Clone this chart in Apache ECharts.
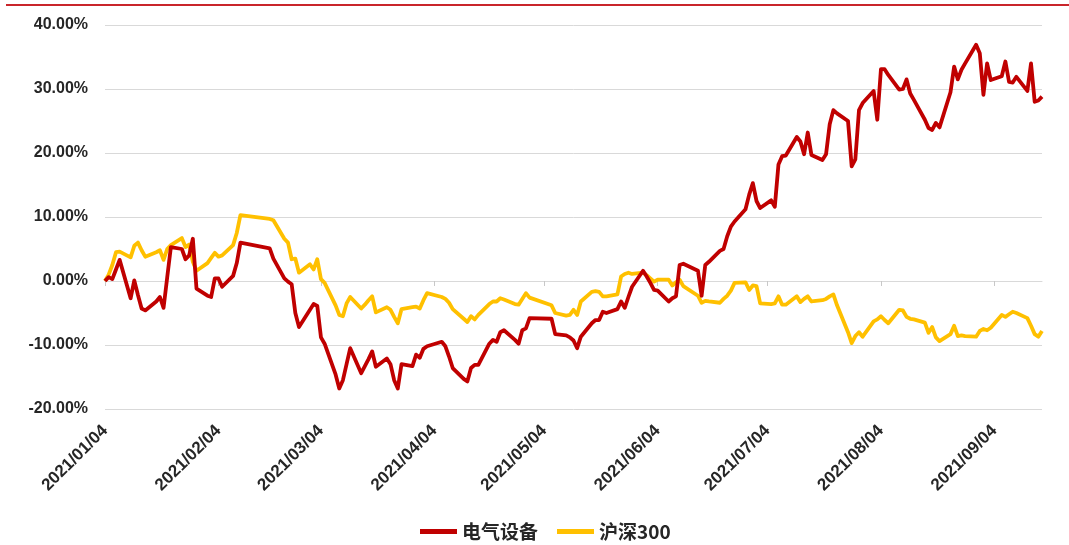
<!DOCTYPE html>
<html>
<head>
<meta charset="utf-8">
<script src="https://cdn.jsdelivr.net/npm/echarts@6/dist/echarts.min.js"></script>
<style>
  html, body { margin: 0; padding: 0; background: #ffffff; }
  #chart { width: 1069px; height: 545px; }
</style>
</head>
<body>
<div id="chart"></div>
<script>
// Trading days, 2021 (A-share calendar)
const tradeDates = [
  '2021-01-04','2021-01-05','2021-01-06','2021-01-07','2021-01-08','2021-01-11','2021-01-12','2021-01-13','2021-01-14','2021-01-15',
  '2021-01-18','2021-01-19','2021-01-20','2021-01-21','2021-01-22','2021-01-25','2021-01-26','2021-01-27','2021-01-28','2021-01-29',
  '2021-02-01','2021-02-02','2021-02-03','2021-02-04','2021-02-05','2021-02-08','2021-02-09','2021-02-10','2021-02-18','2021-02-19',
  '2021-02-22','2021-02-23','2021-02-24','2021-02-25','2021-02-26',
  '2021-03-01','2021-03-02','2021-03-03','2021-03-04','2021-03-05','2021-03-08','2021-03-09','2021-03-10','2021-03-11','2021-03-12',
  '2021-03-15','2021-03-16','2021-03-17','2021-03-18','2021-03-19','2021-03-22','2021-03-23','2021-03-24','2021-03-25','2021-03-26',
  '2021-03-29','2021-03-30','2021-03-31',
  '2021-04-01','2021-04-02','2021-04-06','2021-04-07','2021-04-08','2021-04-09','2021-04-12','2021-04-13','2021-04-14','2021-04-15',
  '2021-04-16','2021-04-19','2021-04-20','2021-04-21','2021-04-22','2021-04-23','2021-04-26','2021-04-27','2021-04-28','2021-04-29',
  '2021-04-30',
  '2021-05-06','2021-05-07','2021-05-10','2021-05-11','2021-05-12','2021-05-13','2021-05-14','2021-05-17','2021-05-18','2021-05-19',
  '2021-05-20','2021-05-21','2021-05-24','2021-05-25','2021-05-26','2021-05-27','2021-05-28','2021-05-31',
  '2021-06-01','2021-06-02','2021-06-03','2021-06-04','2021-06-07','2021-06-08','2021-06-09','2021-06-10','2021-06-11','2021-06-15',
  '2021-06-16','2021-06-17','2021-06-18','2021-06-21','2021-06-22','2021-06-23','2021-06-24','2021-06-25','2021-06-28','2021-06-29',
  '2021-06-30',
  '2021-07-01','2021-07-02','2021-07-05','2021-07-06','2021-07-07','2021-07-08','2021-07-09','2021-07-12','2021-07-13','2021-07-14',
  '2021-07-15','2021-07-16','2021-07-19','2021-07-20','2021-07-21','2021-07-22','2021-07-23','2021-07-26','2021-07-27','2021-07-28',
  '2021-07-29','2021-07-30',
  '2021-08-02','2021-08-03','2021-08-04','2021-08-05','2021-08-06','2021-08-09','2021-08-10','2021-08-11','2021-08-12','2021-08-13',
  '2021-08-16','2021-08-17','2021-08-18','2021-08-19','2021-08-20','2021-08-23','2021-08-24','2021-08-25','2021-08-26','2021-08-27',
  '2021-08-30','2021-08-31',
  '2021-09-01','2021-09-02','2021-09-03','2021-09-06','2021-09-07','2021-09-08','2021-09-09','2021-09-10','2021-09-13','2021-09-14',
  '2021-09-15','2021-09-16','2021-09-17'
];

// Cumulative return since 2021-01-04, in percent: 电气设备 (electrical equipment index)
const elecValues = [
  0, 0.6, 0.3, 1.8, 3.3, -2.7, 0.1, -2.2, -4.3, -4.6,
  -3.2, -2.5, -4.2, 0.6, 5.3, 5.0, 3.4, 4.0, 6.6, -1.2,
  -2.3, -2.5, 0.4, 0.4, -0.9, 0.8, 2.8, 6.0, 5.1, 3.5,
  0.4, -0.1, -0.5, -5.0, -7.2,
  -4.5, -3.6, -3.9, -8.8, -9.8, -14.6, -16.8, -15.5, -13.0, -10.5,
  -14.4, -13.3, -12.2, -11.0, -13.4, -12.1, -13.0, -15.5, -16.8, -13.0,
  -13.3, -11.5, -12.0,
  -10.6, -10.2, -9.5, -10.2, -11.8, -13.6, -15.3, -15.7, -13.6, -13.1,
  -13.1, -9.8, -9.2, -9.5, -8.0, -7.7, -9.2, -9.8, -7.7, -7.4,
  -5.8,
  -5.9, -8.3, -8.5, -8.8, -9.3, -10.5, -8.7, -6.6, -6.1, -6.1,
  -4.8, -5.0, -4.4, -3.2, -4.2, -2.5, -0.9, 1.6,
  0.7, -0.3, -1.4, -1.5, -3.2, -2.7, -2.4, 2.5, 2.7, 1.6,
  -2.3, 2.5, 3.0, 4.7, 5.0, 7.0, 8.5, 9.3, 11.2, 13.5,
  15.3,
  12.5, 11.4, 12.6, 11.6, 18.2, 19.5, 19.6, 22.5, 21.8, 19.8,
  23.2, 19.7, 18.9, 19.8, 24.5, 26.7, 26.2, 25.0, 17.9, 19.0,
  26.7, 27.8,
  29.7, 25.2, 33.1, 33.1, 32.2, 29.9, 30.0, 31.5, 29.3, 28.3,
  25.2, 23.9, 23.6, 24.7, 24.0, 29.5, 33.5, 31.5, 33.0, 34.0,
  36.9, 35.6,
  29.1, 34.0, 31.4, 32.0, 34.3, 31.1, 31.0, 31.9, 29.7, 34.0,
  28.0, 28.2, 28.8
];

// Cumulative return since 2021-01-04, in percent: 沪深300 (CSI 300)
const hs300Values = [
  0, 1.0, 2.5, 4.5, 4.6, 3.7, 5.5, 6.0, 4.8, 3.8,
  4.5, 4.8, 3.3, 5.0, 5.6, 6.7, 5.3, 5.7, 3.0, 1.6,
  2.8, 3.6, 4.4, 3.8, 4.0, 5.6, 7.5, 10.3, 9.7, 9.5,
  6.6, 6.0, 3.4, 3.5, 1.3,
  2.6, 1.8, 3.4, 0.3, -0.3, -3.8, -5.3, -5.5, -3.5, -2.5,
  -4.3, -3.7, -3.0, -2.4, -4.9, -4.1, -4.5, -5.6, -6.6, -4.4,
  -4.1, -4.0, -4.3,
  -3.0, -1.9, -2.5, -2.8, -3.4, -4.4, -5.9, -6.4, -5.5, -6.0,
  -5.3, -3.6, -3.2, -3.2, -2.7, -2.9, -3.6, -3.7, -2.8, -1.9,
  -2.6,
  -3.8, -5.0, -5.4, -5.3, -4.5, -5.3, -3.2, -1.7, -1.6, -1.7,
  -2.4, -2.4, -2.1, 0.7, 1.1, 1.3, 1.1, 1.3,
  0.9, 0.4, -0.1, 0.2, 0.2, -0.7, -0.2, 0.2, -0.8, -2.3,
  -3.4, -3.1, -3.2, -3.4, -2.8, -2.3, -1.5, -0.3, -0.2, -1.4,
  -0.7,
  -0.8, -3.5, -3.6, -3.5, -2.4, -3.7, -3.7, -2.4, -3.3, -2.8,
  -2.4, -3.2, -3.0, -2.8, -2.4, -2.1, -3.8, -8.0, -9.7, -8.6,
  -8.0, -8.7,
  -6.3, -6.0, -5.5, -6.1, -6.6, -4.5, -4.6, -5.6, -5.9, -6.0,
  -6.5, -8.1, -7.2, -8.8, -9.4, -8.3, -7.0, -8.6, -8.5, -8.6,
  -8.7, -7.8,
  -7.5, -7.7, -7.3, -5.3, -5.6, -5.2, -4.8, -5.0, -5.8, -7.0,
  -8.3, -8.7, -7.8
];

// Date axis labels / ticks
const tickDates = [
  '2021-01-04','2021-02-04','2021-03-04','2021-04-04','2021-05-04',
  '2021-06-04','2021-07-04','2021-08-04','2021-09-04'
];

// Percent axis
const yMin = -20, yMax = 40, yStep = 10;

const seriesNames = ['电气设备', '沪深300'];
const seriesColors = ['#c00000', '#ffc000'];

function toTime(s) {
  const p = s.split('-').map(Number);
  return new Date(p[0], p[1] - 1, p[2]).getTime();
}
function pad2(n) { return (n < 10 ? '0' : '') + n; }
function fmtDate(t) {
  const d = new Date(t);
  return d.getFullYear() + '/' + pad2(d.getMonth() + 1) + '/' + pad2(d.getDate());
}

const xMin = toTime(tradeDates[0]);
const xMax = toTime(tradeDates[tradeDates.length - 1]);
const tickTimes = tickDates.map(toTime);
const pairs = vals => tradeDates.map((d, i) => [toTime(d), vals[i]]);

const labelFont = 'Liberation Sans, Arial, sans-serif';

// plot box
const gridTop = 25, gridBottom = 136, chartH = 545;
const plotH = chartH - gridTop - gridBottom;
// distance from the bottom edge up to the 0% line
const zeroLift = plotH * (0 - yMin) / (yMax - yMin);

const chart = echarts.init(document.getElementById('chart'), null, { renderer: 'canvas' });
chart.setOption({
  animation: false,
  backgroundColor: '#ffffff',
  grid: { left: 105, right: 27, top: gridTop, bottom: gridBottom, containLabel: false },
  xAxis: [
    {
      // calendar-day scale (timestamps), labels on the 4th of each month
      type: 'value',
      min: xMin,
      max: xMax,
      scale: true,
      axisLine: { show: false, onZero: false },
      axisTick: { show: false },
      splitLine: { show: false },
      axisLabel: {
        customValues: tickTimes,
        formatter: v => fmtDate(v),
        rotate: 45,
        margin: 19,
        fontSize: 17,
        fontWeight: 'bold',
        fontFamily: labelFont,
        color: '#262626'
      }
    },
    {
      // horizontal axis line with month ticks, sitting on the 0% level
      type: 'value',
      min: xMin,
      max: xMax,
      scale: true,
      position: 'bottom',
      offset: -zeroLift,
      axisLine: { show: true, onZero: false, lineStyle: { color: '#d9d9d9', width: 1 } },
      axisTick: { show: true, customValues: tickTimes, length: 5, lineStyle: { color: '#c8c8c8' } },
      axisLabel: { show: false },
      splitLine: { show: false }
    }
  ],
  yAxis: {
    type: 'value',
    min: yMin,
    max: yMax,
    interval: yStep,
    axisLine: { show: false },
    axisTick: { show: false },
    splitLine: { lineStyle: { color: '#d9d9d9', width: 1 } },
    axisLabel: {
      formatter: v => v.toFixed(2) + '%',
      margin: 17,
      fontSize: 16,
      fontWeight: 'bold',
      fontFamily: labelFont,
      color: '#262626'
    }
  },
  legend: {
    data: seriesNames,
    left: 415,
    top: 517,
    icon: 'rect',
    itemWidth: 37,
    itemHeight: 5,
    itemGap: 19,
    textStyle: {
      fontSize: 19,
      fontWeight: 'bold',
      fontFamily: 'Noto Sans CJK SC, sans-serif',
      color: '#262626'
    }
  },
  series: [
    {
      name: seriesNames[0],
      type: 'line',
      xAxisIndex: 0,
      data: pairs(elecValues),
      showSymbol: false,
      symbol: 'none',
      z: 3,
      lineStyle: { color: seriesColors[0], width: 3.8, join: 'round' },
      itemStyle: { color: seriesColors[0] }
    },
    {
      name: seriesNames[1],
      type: 'line',
      xAxisIndex: 0,
      data: pairs(hs300Values),
      showSymbol: false,
      symbol: 'none',
      z: 2,
      lineStyle: { color: seriesColors[1], width: 3.8, join: 'round' },
      itemStyle: { color: seriesColors[1] }
    }
  ],
  graphic: [
    {
      type: 'line',
      shape: { x1: 6, y1: 5, x2: 1069, y2: 5 },
      style: { stroke: '#c9252b', lineWidth: 2 },
      silent: true
    }
  ]
});
</script>
</body>
</html>
